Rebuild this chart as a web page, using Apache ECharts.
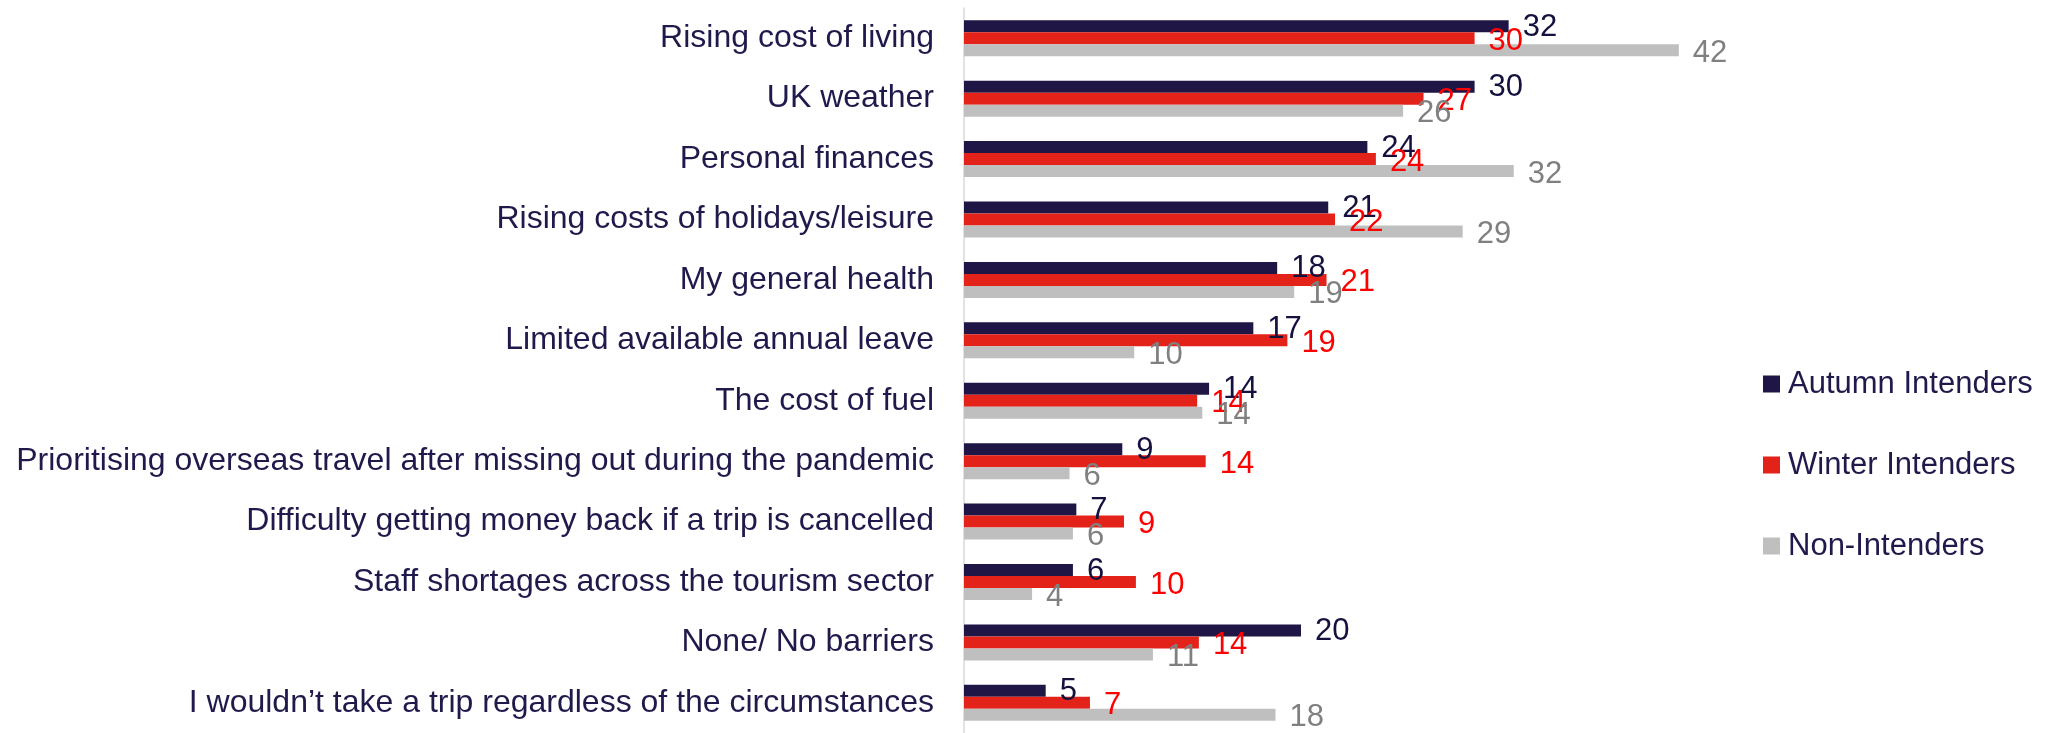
<!DOCTYPE html>
<html>
<head>
<meta charset="utf-8">
<script src="https://cdn.jsdelivr.net/npm/echarts@6/dist/echarts.min.js"></script>
<style>html,body{margin:0;padding:0;background:#fff;}#chart{width:2057px;height:733px;}</style>
</head>
<body>
<div id="chart"></div>
<script>
const categories = [
  "Rising cost of living",
  "UK weather",
  "Personal finances",
  "Rising costs of holidays/leisure",
  "My general health",
  "Limited available annual leave",
  "The cost of fuel",
  "Prioritising overseas travel after missing out during the pandemic",
  "Difficulty getting money back if a trip is cancelled",
  "Staff shortages across the tourism sector",
  "None/ No barriers",
  "I wouldn\u2019t take a trip regardless of the circumstances"
];
const seriesNames = ["Autumn Intenders", "Winter Intenders", "Non-Intenders"];
// values; labels show them rounded
const autumn = [32.0, 30.0, 23.7, 21.4, 18.4, 17.0, 14.4, 9.3, 6.6, 6.4, 19.8, 4.8];
const winter = [30.0, 27.0, 24.2, 21.8, 21.3, 19.0, 13.7, 14.2, 9.4, 10.1, 13.8, 7.4];
const nonInt = [42.0, 25.8, 32.3, 29.3, 19.4, 10.0, 14.0, 6.2, 6.4, 4.0, 11.1, 18.3];

const FONT = "'Liberation Sans', Arial, sans-serif";
const chart = echarts.init(document.getElementById('chart'));

function bar(name, data, color, labelColor, offY) {
  return {
    name: name, type: 'bar', data: data,
    barWidth: 12, barGap: '0%',
    itemStyle: { color: color },
    label: {
      show: true, position: 'right', distance: 14,
      color: labelColor, fontSize: 31, fontFamily: FONT,
      offset: [0, offY],
      formatter: function (p) { return String(Math.round(p.value)); }
    },
    emphasis: { disabled: true },
    animation: false
  };
}

chart.setOption({
  animation: false,
  grid: { left: 964, top: 8, height: 728, width: 851, containLabel: false },
  xAxis: {
    type: 'value', min: 0, max: 50,
    show: false
  },
  yAxis: {
    type: 'category', data: categories, inverse: true,
    axisLine: { show: true, lineStyle: { color: '#d9d9d9', width: 1.5 } },
    axisTick: { show: false },
    axisLabel: { margin: 30, color: '#1f1a4b', fontSize: 32, fontFamily: FONT }
  },
  legend: {
    orient: 'vertical', left: 1758, top: 363,
    itemWidth: 17, itemHeight: 17, itemGap: 49,
    icon: 'rect',
    data: seriesNames,
    textStyle: { color: '#1f1a4b', fontSize: 31, fontFamily: FONT, lineHeight: 32, padding: [0, 0, 0, 3] }
  },
  series: [
    bar(seriesNames[0], autumn, '#1f1646', '#14113f', 1),
    bar(seriesNames[1], winter, '#e32219', '#ff0000', 3),
    bar(seriesNames[2], nonInt, '#bfbfbf', '#808080', 3)
  ]
});
</script>
</body>
</html>
